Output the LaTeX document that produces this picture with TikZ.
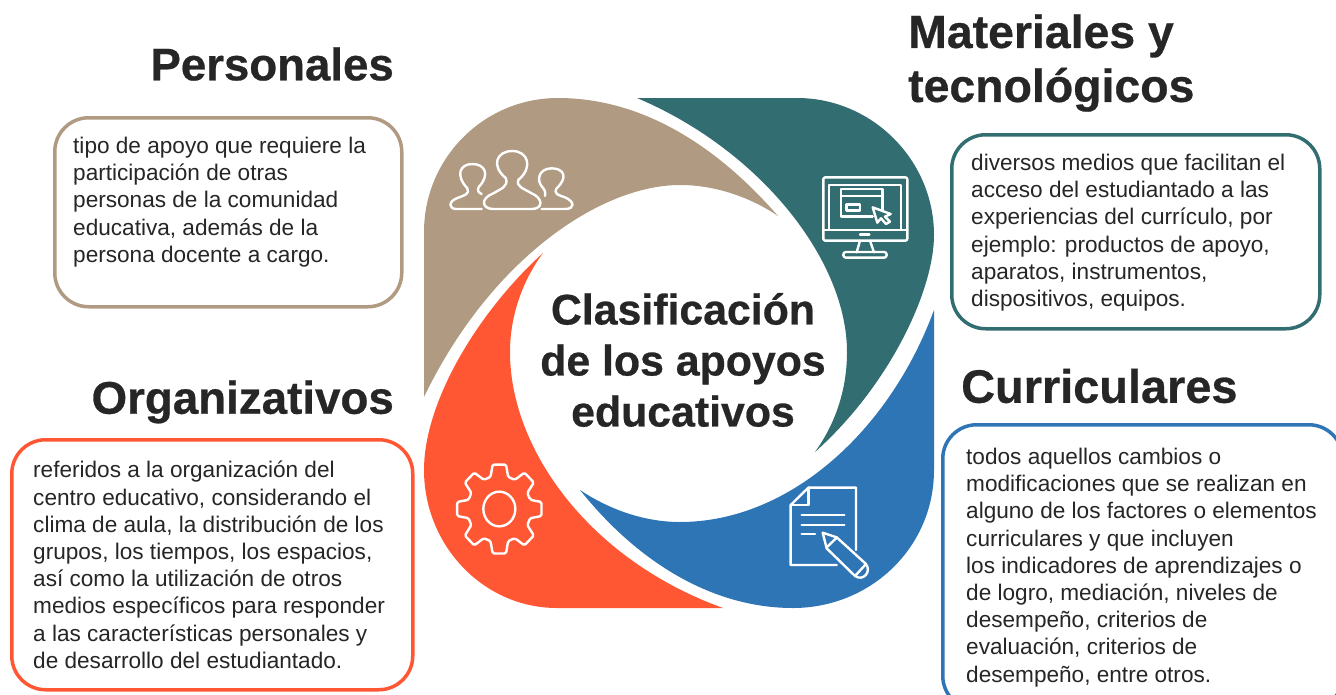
\documentclass[tikz,border=0pt]{standalone}
\usepackage{fontspec}
\setmainfont{Liberation Sans}[BoldFeatures={FakeBold=0.6}]
\definecolor{apoyotan}{HTML}{B09A82}
\definecolor{apoyoteal}{HTML}{316D71}
\definecolor{apoyoblue}{HTML}{2E75B6}
\definecolor{apoyored}{HTML}{FF5733}
\definecolor{apoyotext}{HTML}{262626}
\tikzset{
  infobox/.style={draw=#1, line width=3.5pt, rounded corners=34pt, fill=white, anchor=north west, inner sep=0pt},
  infotext/.style={anchor=north west, align=left, inner sep=0pt, text=apoyotext, font=\fontsize{22.6}{27.2}\selectfont},
  heading/.style={inner sep=0pt, text=apoyotext, align=left, font=\fontsize{#1}{54}\selectfont\bfseries},
  icon/.style={draw=white, line width=2.4pt, line join=round, line cap=round},
}
\begin{document}
\begin{tikzpicture}[x=1pt, y=-1pt]
\useasboundingbox (0,0) rectangle (1336,694);
% petals
\fill[apoyotan] (424,397) -- (424,232) .. controls (424,158) and (484,98) .. (558,98) .. controls (650,98) and (725,155) .. (778,216) .. controls (750,197) and (715,185) .. (680,185) .. controls (600,185) and (490,260) .. (424,397) -- cycle;
\fill[apoyoteal] (637,98) -- (797,98) .. controls (872,98) and (934,160) .. (934,235) .. controls (934,290) and (890,385) .. (815,452) .. controls (838,420) and (847,385) .. (847,352) .. controls (847,260) and (760,150) .. (637,98) -- cycle;
\fill[apoyoblue] (934,310) -- (934,470) .. controls (934,548) and (870,608) .. (793,608) .. controls (715,608) and (640,565) .. (580,490) .. controls (610,510) and (645,522) .. (680,522) .. controls (790,522) and (890,430) .. (934,310) -- cycle;
\fill[apoyored] (543,253) .. controls (523,280) and (510,315) .. (510,352) .. controls (510,450) and (590,560) .. (723,608) -- (557,608) .. controls (483,608) and (424,545) .. (424,470) .. controls (424,400) and (480,310) .. (543,253) -- cycle;
% center
\node[heading=42.8, align=center, font=\fontsize{42.8}{51}\selectfont\bfseries] (centro) at (683,360) {Clasificación\\de los apoyos\\educativos};
% boxes
\node[infobox=apoyotan, minimum width=347pt, minimum height=189pt] (boxpersonales) at (53,116) {};
\node[infobox=apoyoteal, minimum width=368pt, minimum height=194pt] (boxmateriales) at (950,133) {};
\node[infobox=apoyored, minimum width=401pt, minimum height=250pt] (boxorganizativos) at (10,438) {};
\node[infobox=apoyoblue, minimum width=400pt, minimum height=285pt] (boxcurriculares) at (941,423) {};
% headings
\node[heading=45.6, anchor=east] (personales) at (394,64) {Personales};
\node[heading=46.4, anchor=west] (materiales) at (908,63) {Materiales y\\tecnológicos};
\node[heading=45.7, anchor=east] (organizativos) at (394,402) {Organizativos};
\node[heading=46.9, anchor=west] (curriculares) at (961,386) {Curriculares};
% texts
\node[infotext] (textpersonales) at (73,137) {tipo de apoyo que requiere la\\participación de otras\\personas de la comunidad\\educativa, además de la\\persona docente a cargo.};
\node[infotext] (textmateriales) at (971,154) {diversos medios que facilitan el\\acceso del estudiantado a las\\experiencias del currículo, por\\ejemplo: productos de apoyo,\\aparatos, instrumentos,\\dispositivos, equipos.};
\node[infotext] (textorganizativos) at (33,461) {referidos a la organización del\\centro educativo, considerando el\\clima de aula, la distribución de los\\grupos, los tiempos, los espacios,\\así como la utilización de otros\\medios específicos para responder\\a las características personales y\\de desarrollo del estudiantado.};
\node[infotext] (textcurriculares) at (966,448) {todos aquellos cambios o\\modificaciones que se realizan en\\alguno de los factores o elementos\\curriculares y que incluyen\\los indicadores de aprendizajes o\\de logro, mediación, niveles de\\desempeño, criterios de\\evaluación, criterios de\\desempeño, entre otros.};
% people
\begin{scope}[shift={(410,90)}, x=1/3*1pt, y=-1/3*1pt]
\draw[icon] (288,265) .. controls (240,225) and (262,183) .. (307,183) .. controls (352,183) and (372,230) .. (325,270) .. controls (318,290) and (340,295) .. (365,310) .. controls (400,325) and (400,357) .. (365,357) -- (250,357) .. controls (215,357) and (210,325) .. (250,310) .. controls (275,295) and (295,290) .. (288,265) -- cycle;
\draw[icon] (215,357) -- (140,357) .. controls (115,357) and (115,335) .. (140,325) .. controls (165,315) and (180,312) .. (172,295) .. controls (135,255) and (150,222) .. (187,222) .. controls (226,222) and (240,255) .. (207,290) .. controls (200,300) and (205,308) .. (215,312);
\draw[icon] (395,357) -- (465,357) .. controls (495,357) and (495,335) .. (465,322) .. controls (445,315) and (430,312) .. (440,295) .. controls (475,262) and (462,235) .. (425,235) .. controls (388,235) and (375,270) .. (400,295) .. controls (408,305) and (405,312) .. (405,318);
\end{scope}
% monitor
\begin{scope}[shift={(680,90)}, x=1/3*1pt, y=-1/3*1pt]
\draw[icon, rounded corners=2pt] (430,262) rectangle (682,452);
\draw[icon] (430,420) -- (682,420);
\draw[icon] (447,420) -- (447,285) -- (663,285) -- (663,420);
\draw[icon] (578,380) -- (483,380) -- (483,297) -- (607,297) -- (607,362);
\draw[icon] (483,318) -- (607,318);
\draw[icon] (500,343) rectangle (540,362);
\draw[icon] (578,352) -- (632,372) -- (615,380) -- (630,395) -- (618,402) -- (603,385) -- (592,398) -- cycle;
\draw[icon] (540,434) -- (568,434);
\draw[icon] (540,452) -- (530,487);
\draw[icon] (570,452) -- (582,487);
\draw[icon, rounded corners=2.5pt] (490,486) rectangle (620,503);
\end{scope}
% gear
\begin{scope}[shift={(410,350)}, x=1/3*1pt, y=-1/3*1pt]
\begin{scope}[shift={(268,477)}]
\draw[icon] (0,0) ellipse (48 and 52);
\draw[icon, rounded corners=1.5pt] (-16:96 and 100) \foreach \a in {0,45,...,315}{ -- (\a-16:96 and 100) -- (\a-9:128 and 135) -- (\a+9:128 and 135) -- (\a+16:96 and 100)} -- cycle;
\end{scope}
\end{scope}
% document
\begin{scope}[shift={(680,350)}, x=1/3*1pt, y=-1/3*1pt]
\draw[icon] (528,600) -- (528,413) -- (385,413) -- (332,465) -- (332,645) -- (470,645);
\draw[icon] (385,413) -- (385,465) -- (332,465);
\draw[icon] (365,495) -- (493,495);
\draw[icon] (365,525) -- (493,525);
\draw[icon] (365,552) -- (405,552);
\draw[icon] (428,548) -- (470,562) -- (558,642) .. controls (575,665) and (550,695) .. (525,678) -- (440,595) -- cycle;
\draw[icon] (440,592) -- (468,565);
\draw[icon] (525,678) -- (558,642);
\end{scope}
\end{tikzpicture}
\end{document}
